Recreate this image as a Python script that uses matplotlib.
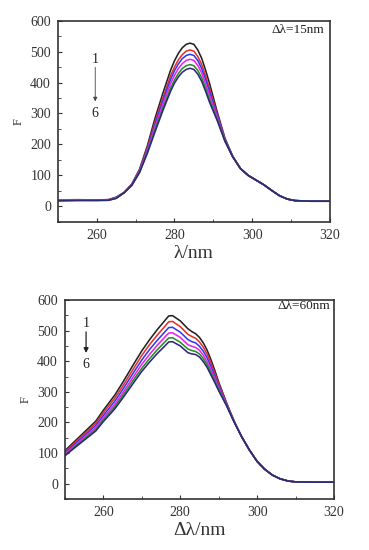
import matplotlib
matplotlib.use("Agg")
import matplotlib.pyplot as plt
from matplotlib.ticker import MultipleLocator

plt.rcParams["font.family"] = ["Liberation Serif", "DejaVu Serif"]

colors = ["#222222", "#e8302a", "#2f3cf0", "#f020f0", "#2a8a2a", "#2a2a7a"]

# delta lambda = 15 nm
wl_15 = [250, 255, 260, 263, 265, 267, 269, 271, 273, 275, 277, 279, 280, 281, 282, 283, 284,
         285, 286, 287, 288, 289, 291, 293, 295, 297, 299, 301, 303, 305, 307, 309, 311, 315, 320]
f15_1 = [20, 21, 21, 22, 30, 45, 72, 120, 195, 285, 365, 440, 470, 494, 512, 523, 527,
         523, 505, 478, 440, 398, 305, 220, 162, 122, 100, 85, 70, 52, 35, 24, 19, 17, 17]
f15_2 = [21, 22, 21, 22, 29, 45, 71, 117, 188, 273, 350, 422, 450, 473, 490, 501, 505,
         501, 484, 458, 422, 381, 297, 217, 161, 122, 100, 85, 70, 52, 35, 24, 19, 17, 17]
f15_3 = [20, 21, 21, 21, 28, 44, 70, 115, 184, 266, 340, 410, 438, 460, 477, 487, 491,
         487, 471, 445, 410, 371, 293, 215, 161, 122, 100, 85, 70, 52, 35, 24, 19, 17, 17]
f15_4 = [20, 21, 20, 21, 28, 44, 69, 113, 180, 257, 329, 396, 423, 445, 461, 471, 475,
         471, 455, 431, 396, 359, 287, 213, 160, 122, 100, 85, 70, 52, 35, 24, 19, 17, 17]
f15_5 = [19, 20, 20, 20, 27, 44, 68, 111, 175, 248, 317, 382, 408, 429, 445, 454, 458,
         454, 439, 415, 382, 346, 281, 211, 160, 122, 100, 85, 70, 52, 35, 24, 19, 17, 17]
f15_6 = [18, 19, 19, 20, 26, 44, 68, 109, 171, 241, 309, 372, 398, 418, 433, 442, 446,
         442, 427, 404, 372, 337, 277, 210, 160, 122, 100, 85, 70, 52, 35, 24, 19, 17, 17]

# delta lambda = 60 nm
wl_60 = [250, 252, 255, 258, 260, 263, 265, 268, 270, 272, 274, 276, 277, 278, 280, 282,
         283, 284, 285, 286, 287, 288, 289, 290, 292, 294, 296, 298, 300, 302, 304, 306,
         308, 310, 315, 320]
f60_1 = [108, 132, 168, 204, 240, 290, 330, 393, 434, 470, 503, 533, 548, 549, 532, 506,
         497, 490, 478, 460, 436, 405, 370, 332, 266, 205, 153, 110, 73, 47, 28, 16,
         9, 6, 5, 5]
f60_2 = [104, 127, 162, 197, 232, 280, 318, 379, 419, 454, 485, 514, 529, 530, 513, 488,
         481, 475, 463, 446, 423, 394, 361, 326, 264, 204, 153, 110, 73, 47, 28, 16,
         9, 6, 5, 5]
f60_3 = [101, 123, 156, 190, 223, 270, 307, 366, 404, 438, 468, 496, 510, 511, 495, 471,
         464, 460, 449, 433, 411, 383, 352, 319, 261, 204, 153, 110, 73, 47, 28, 16,
         9, 6, 5, 5]
f60_4 = [97, 119, 151, 183, 216, 260, 296, 353, 390, 422, 452, 479, 492, 493, 478, 454,
         449, 445, 436, 420, 399, 372, 344, 313, 259, 203, 153, 110, 73, 47, 28, 16,
         9, 6, 5, 5]
f60_5 = [94, 115, 146, 177, 209, 252, 287, 342, 377, 408, 437, 463, 476, 477, 462, 440,
         435, 432, 424, 409, 389, 363, 336, 308, 257, 203, 153, 110, 73, 47, 28, 16,
         9, 6, 5, 5]
f60_6 = [91, 112, 142, 172, 203, 245, 279, 332, 367, 397, 425, 450, 463, 464, 450, 428,
         424, 422, 414, 399, 380, 355, 330, 304, 256, 202, 153, 110, 73, 47, 28, 16,
         9, 6, 5, 5]

x_ticks = [260, 280, 300, 320]
y_ticks = [0, 100, 200, 300, 400, 500, 600]


def style_axes(ax):
    ax.set_xlim(250, 320)
    ax.set_ylim(-50, 600)
    ax.set_xticks(x_ticks)
    ax.set_yticks(y_ticks)
    ax.xaxis.set_minor_locator(MultipleLocator(10))
    ax.yaxis.set_minor_locator(MultipleLocator(50))
    ax.tick_params(which="both", direction="in", top=False, right=False,
                   labelsize=10, colors="#333333", pad=5)
    ax.tick_params(which="major", length=3)
    ax.tick_params(which="minor", length=2)
    for s in ax.spines.values():
        s.set_color("#333333")
        s.set_linewidth(1.2)
    ax.set_ylabel("F", fontsize=9, color="#333333", labelpad=4)


fig = plt.figure(figsize=(3.69, 5.50), dpi=100)

ax1 = fig.add_axes([0.157, 0.5964, 0.737, 0.3663])
for ys, c in zip([f15_1, f15_2, f15_3, f15_4, f15_5, f15_6], colors):
    ax1.plot(wl_15, ys, color=c, lw=1.15)
style_axes(ax1)
ax1.set_xlabel("λ/nm", fontsize=14, color="#333333", labelpad=2)
ax1.text(318.5, 570, "Δλ=15nm", ha="right", va="center", fontsize=9.5, color="#222222")
ax1.text(259.6, 474, "1", ha="center", va="center", fontsize=10, color="#222222")
ax1.text(259.6, 300, "6", ha="center", va="center", fontsize=10, color="#222222")
ax1.annotate("", xy=(259.6, 330), xytext=(259.6, 458),
             arrowprops=dict(arrowstyle="-|>", color="#444444", lw=0.6,
                             mutation_scale=6))

ax2 = fig.add_axes([0.176, 0.0927, 0.729, 0.3618])
for ys, c in zip([f60_1, f60_2, f60_3, f60_4, f60_5, f60_6], colors):
    ax2.plot(wl_60, ys, color=c, lw=1.15)
style_axes(ax2)
ax2.set_xlabel("Δλ/nm", fontsize=14, color="#333333", labelpad=2)
ax2.text(319, 580, "Δλ=60nm", ha="right", va="center", fontsize=9.5, color="#222222")
ax2.text(255.5, 522, "1", ha="center", va="center", fontsize=10, color="#222222")
ax2.text(255.5, 388, "6", ha="center", va="center", fontsize=10, color="#222222")
ax2.annotate("", xy=(255.5, 418), xytext=(255.5, 505),
             arrowprops=dict(arrowstyle="-|>", color="#222222", lw=0.9,
                             mutation_scale=7))

fig.savefig("out.png", dpi=100)
